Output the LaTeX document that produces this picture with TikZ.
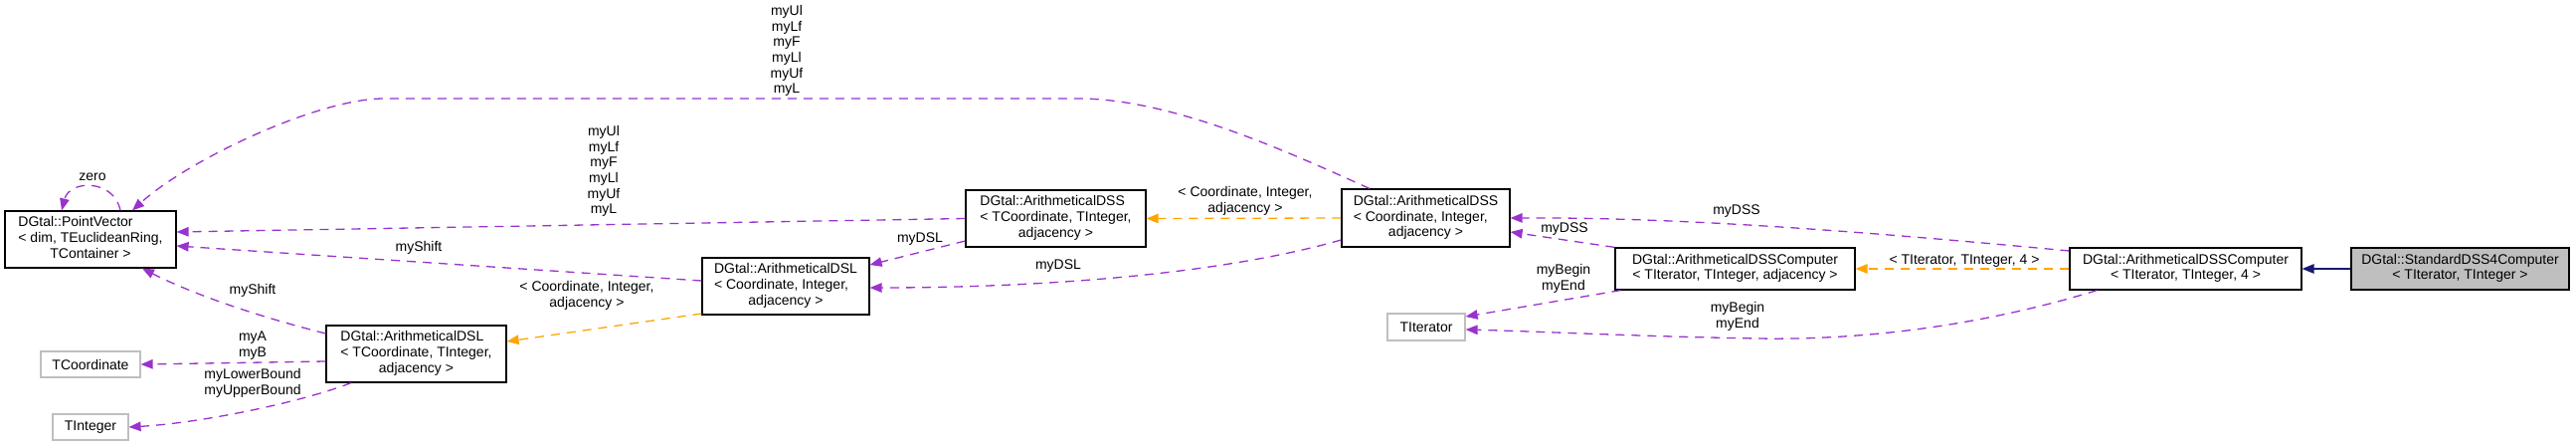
\documentclass[tikz,border=0pt]{standalone}
\usepackage{fontspec}
\setmainfont{Liberation Sans}
\usetikzlibrary{arrows.meta}
\definecolor{edgepurple}{HTML}{9A32CD}
\definecolor{edgeorange}{HTML}{FFA500}
\definecolor{edgenavy}{HTML}{191970}
\definecolor{boxgray}{HTML}{BFBFBF}
\begin{document}
\begin{tikzpicture}[x=1pt,y=-1pt,
  font=\fontsize{14}{15.7}\selectfont,
  cls/.style={draw=black, line width=1.2pt, fill=white, inner sep=0pt},
  ext/.style={draw=boxgray, line width=1.2pt, fill=white, inner sep=0pt},
  mainbox/.style={cls, fill=boxgray},
  tipstyle/.style={-{Triangle[length=12pt,width=9.5pt]}},
  uses/.style={draw=edgepurple, line width=1.3pt, dash pattern=on 9pt off 7pt, tipstyle},
  tmpl/.style={draw=edgeorange, line width=1.3pt, dash pattern=on 9pt off 7pt, tipstyle},
  inh/.style={draw=edgenavy, line width=1.3pt, tipstyle},
  lbl/.style={align=center, inner sep=0pt}]
\useasboundingbox (0,0) rectangle (2590,448);

% boxes
\node[cls, minimum width=172, minimum height=57] (pv) at (91,240.5)
  {\begin{tabular}{@{}l@{}}DGtal::PointVector\\< dim, TEuclideanRing,\\\multicolumn{1}{@{}c@{}}{TContainer >}\end{tabular}};
\node[cls, minimum width=181, minimum height=57] (dslT) at (418.5,355.5)
  {\begin{tabular}{@{}l@{}}DGtal::ArithmeticalDSL\\< TCoordinate, TInteger,\\\multicolumn{1}{@{}c@{}}{adjacency >}\end{tabular}};
\node[ext, minimum width=100, minimum height=26] (tcoord) at (91,366) {TCoordinate};
\node[ext, minimum width=76, minimum height=26] (tint) at (91,429) {TInteger};
\node[cls, minimum width=168, minimum height=57] (dslC) at (790,287.5)
  {\begin{tabular}{@{}l@{}}DGtal::ArithmeticalDSL\\< Coordinate, Integer,\\\multicolumn{1}{@{}c@{}}{adjacency >}\end{tabular}};
\node[cls, minimum width=181, minimum height=57] (dssT) at (1061.5,219.5)
  {\begin{tabular}{@{}l@{}}DGtal::ArithmeticalDSS\\< TCoordinate, TInteger,\\\multicolumn{1}{@{}c@{}}{adjacency >}\end{tabular}};
\node[cls, minimum width=169, minimum height=58] (dssC) at (1433.5,219)
  {\begin{tabular}{@{}l@{}}DGtal::ArithmeticalDSS\\< Coordinate, Integer,\\\multicolumn{1}{@{}c@{}}{adjacency >}\end{tabular}};
\node[cls, minimum width=241, minimum height=42] (compA) at (1744.5,270)
  {\begin{tabular}{@{}l@{}}DGtal::ArithmeticalDSSComputer\\\multicolumn{1}{@{}c@{}}{< TIterator, TInteger, adjacency >}\end{tabular}};
\node[ext, minimum width=78, minimum height=27] (titer) at (1434,328.5) {TIterator};
\node[cls, minimum width=233, minimum height=42] (comp4) at (2197.5,270)
  {\begin{tabular}{@{}l@{}}DGtal::ArithmeticalDSSComputer\\\multicolumn{1}{@{}c@{}}{< TIterator, TInteger, 4 >}\end{tabular}};
\node[mainbox, minimum width=219, minimum height=42] (std) at (2473.5,270)
  {\begin{tabular}{@{}l@{}}DGtal::StandardDSS4Computer\\\multicolumn{1}{@{}c@{}}{< TIterator, TInteger >}\end{tabular}};

% edges
\draw[uses] ([xshift=-56.5]dssC.north) .. controls (1300,155) and (1180,99) .. (1084,99)
  -- (386,99) .. controls (320,99) and (190,160) .. ([xshift=42]pv.north);
\node[lbl] (lTop) at (791,51) {myUl\\myLf\\myF\\myLl\\myUf\\myL};

\draw[uses] (dssT.west) -- ([yshift=7.5]pv.east);
\node[lbl] (lMid) at (607,172) {myUl\\myLf\\myF\\myLl\\myUf\\myL};

\draw[uses] ([yshift=5.5]dslC.west) -- ([yshift=-6.5]pv.east);
\node[lbl] (lShiftA) at (421,249) {myShift};

\draw[uses] ([yshift=20.5]dslT.west) .. controls (260,318) and (195,296) .. ([xshift=52]pv.south);
\node[lbl] (lShiftB) at (254,292) {myShift};

\draw[uses] ([yshift=-7.5]dslT.west) -- (tcoord.east);
\node[lbl] (lAB) at (254,347) {myA\\myB};

\draw[uses] ([xshift=-65.5]dslT.south) .. controls (300,405) and (200,425) .. (tint.east);
\node[lbl] (lBound) at (254,385) {myLowerBound\\myUpperBound};

\draw[tmpl] ([yshift=-27.5]dslC.west) -- ([yshift=12.5]dslT.east);
\node[lbl] (lTmplA) at (590,297) {< Coordinate, Integer,\\adjacency >};

\draw[uses] ([yshift=-22.5]dssT.west) -- ([yshift=21.5]dslC.east);
\node[lbl] (lDslA) at (925,240) {myDSL};

\draw[uses] ([yshift=-22]dssC.west) .. controls (1230,275) and (1050,289) .. ([yshift=-1.5]dslC.east);
\node[lbl] (lDslB) at (1064,267) {myDSL};

\draw[tmpl] (dssC.west) -- (dssT.east);
\node[lbl] (lTmplB) at (1252,202) {< Coordinate, Integer,\\adjacency >};

\draw[uses] ([yshift=18]comp4.west) .. controls (1900,235) and (1700,218) .. (dssC.east);
\node[lbl] (lDssA) at (1746,212) {myDSS};

\draw[uses] (compA.north west) -- ([yshift=-14]dssC.east);
\node[lbl] (lDssB) at (1573,230) {myDSS};

\draw[tmpl] (comp4.west) -- (compA.east);
\node[lbl] (lTmplC) at (1975,262) {< TIterator, TInteger, 4 >};

\draw[uses] ([xshift=6]compA.south west) -- ([yshift=10.5]titer.east);
\node[lbl] (lItA) at (1572,280) {myBegin\\myEnd};

\draw[uses] ([xshift=28]comp4.south west) .. controls (2000,325) and (1880,342) .. (1768,340)
  .. controls (1650,338) and (1550,333) .. ([yshift=-2.5]titer.east);
\node[lbl] (lItB) at (1747,318) {myBegin\\myEnd};

\draw[inh] (std.west) -- (comp4.east);

\draw[uses] ([xshift=30]pv.north) .. controls (115,180) and (70,180) .. ([xshift=-29]pv.north);
\node[lbl] (lZero) at (93,178) {zero};
\end{tikzpicture}
\end{document}
